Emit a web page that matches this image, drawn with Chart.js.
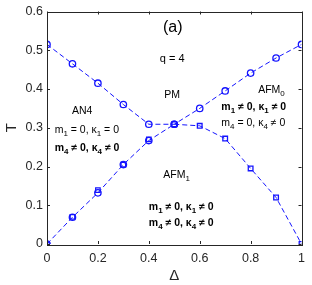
<!DOCTYPE html>
<html>
<head>
<meta charset="utf-8">
<script src="https://cdn.jsdelivr.net/npm/chart.js@4"></script>
<style>
html,body{margin:0;padding:0;background:#fff;}
#wrap{width:312px;height:285px;position:relative;}
</style>
</head>
<body>
<div id="wrap"><canvas id="c" width="312" height="285"></canvas></div>
<script>
// ---- data ----
const deltaUpper = [0, 0.1, 0.2, 0.3, 0.4, 0.5, 0.6, 0.7, 0.8, 0.9, 1.0];
const tUpper     = [0.515, 0.465, 0.415, 0.36, 0.309, 0.309, 0.350, 0.395, 0.441, 0.480, 0.515];
const deltaLowerLeft = [0, 0.1, 0.2, 0.3, 0.4, 0.5];
const tLowerLeftCircles = [0, 0.069, 0.132, 0.205, 0.267, 0.309];
const tLowerLeftSquares = [0, 0.070, 0.139, 0.205, 0.270];
const deltaRight = [0.5, 0.6, 0.7, 0.8, 0.9, 1.0];
const tRight     = [0.309, 0.305, 0.272, 0.195, 0.120, 0];
const xTicks = [0, 0.2, 0.4, 0.6, 0.8, 1];
const yTicks = [0, 0.1, 0.2, 0.3, 0.4, 0.5, 0.6];

// annotations: text uses _ to subscript the next character
const notes = [
  {t: "(a)",             x: 0.494, y: 0.558, size: 16, bold: false, align: "center"},
  {t: "q = 4",           x: 0.492, y: 0.478, size: 11, bold: false, align: "center"},
  {t: "PM",              x: 0.492, y: 0.384, size: 10.5, bold: false, align: "center"},
  {t: "AFM_0",           x: 0.882, y: 0.398, size: 10.5, bold: false, align: "center"},
  {t: "m_1 ≠ 0, κ_1 ≠ 0", x: 0.685, y: 0.352, size: 10.5, bold: true,  align: "left"},
  {t: "m_4 = 0, κ_4 ≠ 0", x: 0.685, y: 0.312, size: 10.5, bold: false, align: "left"},
  {t: "AN4",             x: 0.138, y: 0.342, size: 10.5, bold: false, align: "center"},
  {t: "m_1 = 0, κ_1 = 0", x: 0.030, y: 0.295, size: 10.5, bold: false, align: "left"},
  {t: "m_4 ≠ 0, κ_4 ≠ 0", x: 0.030, y: 0.248, size: 10.5, bold: true,  align: "left"},
  {t: "AFM_1",           x: 0.509, y: 0.178, size: 10.5, bold: false, align: "center"},
  {t: "m_1 ≠ 0, κ_1 ≠ 0", x: 0.400, y: 0.096, size: 10.5, bold: true,  align: "left"},
  {t: "m_4 ≠ 0, κ_4 ≠ 0", x: 0.400, y: 0.053, size: 10.5, bold: true,  align: "left"}
];

const BLUE = "rgb(20,20,255)";
const FONT = "'Liberation Sans', Arial, sans-serif";
const pts = (xs, ys) => ys.map((v, i) => ({x: xs[i], y: v}));

function parseParts(s) {
  const parts = [];
  let cur = "";
  for (let i = 0; i < s.length; i++) {
    if (s[i] === "_" && i + 1 < s.length) {
      if (cur) parts.push({s: cur, sub: false});
      cur = "";
      parts.push({s: s[i + 1], sub: true});
      i++;
    } else cur += s[i];
  }
  if (cur) parts.push({s: cur, sub: false});
  return parts;
}

const decorPlugin = {
  id: "decor",
  afterDatasetsDraw(chart) {
    const ctx = chart.ctx;
    const xs = chart.scales.x, ys = chart.scales.y;
    const a = chart.chartArea;
    ctx.save();
    // box
    ctx.strokeStyle = "#262626";
    ctx.lineWidth = 1;
    ctx.strokeRect(Math.round(a.left) + 0.5, Math.round(a.top) + 0.5,
                   Math.round(a.right - a.left), Math.round(a.bottom - a.top));
    // inward ticks on all sides
    const tl = 3;
    ctx.beginPath();
    xTicks.forEach(v => {
      const px = Math.round(xs.getPixelForValue(v)) + 0.5;
      ctx.moveTo(px, a.bottom); ctx.lineTo(px, a.bottom - tl);
      ctx.moveTo(px, a.top); ctx.lineTo(px, a.top + tl);
    });
    yTicks.forEach(v => {
      const py = Math.round(ys.getPixelForValue(v)) + 0.5;
      ctx.moveTo(a.left, py); ctx.lineTo(a.left + tl, py);
      ctx.moveTo(a.right, py); ctx.lineTo(a.right - tl, py);
    });
    ctx.stroke();
    // annotations
    ctx.fillStyle = "#000";
    ctx.textBaseline = "middle";
    notes.forEach(n => {
      const parts = parseParts(n.t);
      const w = n.bold ? "bold " : "";
      const subSize = Math.round(n.size * 0.75);
      let total = 0;
      parts.forEach(p => {
        ctx.font = w + (p.sub ? subSize : n.size) + "px " + FONT;
        p.w = ctx.measureText(p.s).width;
        total += p.w;
      });
      let x = xs.getPixelForValue(n.x);
      const y = ys.getPixelForValue(n.y);
      if (n.align === "center") x -= total / 2;
      ctx.textAlign = "left";
      parts.forEach(p => {
        ctx.font = w + (p.sub ? subSize : n.size) + "px " + FONT;
        ctx.fillText(p.s, x, p.sub ? y + n.size * 0.35 : y);
        x += p.w;
      });
    });
    ctx.restore();
  }
};

const lineDs = (label, data, style, radius) => ({
  label, data,
  showLine: true,
  borderColor: BLUE,
  borderWidth: 1,
  borderDash: [5, 3],
  pointStyle: style,
  pointRadius: radius,
  pointBorderWidth: 1.3,
  pointBackgroundColor: "rgba(0,0,0,0)",
  pointBorderColor: BLUE,
  tension: 0
});
const markDs = (label, data, style, radius) => ({
  label, data,
  showLine: false,
  pointStyle: style,
  pointRadius: radius,
  pointBorderWidth: 1.2,
  pointBackgroundColor: "rgba(0,0,0,0)",
  pointBorderColor: BLUE,
  borderColor: BLUE
});

new Chart(document.getElementById("c"), {
  type: "scatter",
  data: {
    datasets: [
      lineDs("upper", pts(deltaUpper, tUpper), "circle", 3.2),
      lineDs("lowerLeft", pts(deltaLowerLeft, tLowerLeftCircles), "circle", 3.2),
      markDs("lowerLeftSq", pts(deltaLowerLeft, tLowerLeftSquares), "rect", 3.2),
      lineDs("right", pts(deltaRight, tRight), "rect", 3.3)
    ]
  },
  options: {
    responsive: false,
    animation: false,
    events: [],
    layout: {padding: {top: 9, right: 10, left: 0, bottom: 0}},
    plugins: {legend: {display: false}, tooltip: {enabled: false}},
    scales: {
      x: {
        type: "linear", min: 0, max: 1,
        grid: {display: false, drawTicks: false},
        border: {display: false},
        afterBuildTicks: s => { s.ticks = xTicks.map(v => ({value: v})); },
        afterFit: s => { s.height = 41; },
        ticks: {
          color: "#262626", padding: 7,
          font: {family: FONT, size: 12.5},
          callback: v => String(v)
        },
        title: {display: true, text: "Δ", color: "#262626",
                font: {family: FONT, size: 15}, padding: {top: 0, bottom: 0}}
      },
      y: {
        type: "linear", min: 0, max: 0.6,
        grid: {display: false, drawTicks: false},
        border: {display: false},
        afterBuildTicks: s => { s.ticks = yTicks.map(v => ({value: v})); },
        afterFit: s => { s.width = 47; },
        ticks: {
          color: "#262626", padding: 4,
          font: {family: FONT, size: 12.5},
          callback: v => String(Math.round(v * 10) / 10)
        },
        title: {display: true, text: "T", color: "#262626",
                font: {family: FONT, size: 15}, padding: {top: 3, bottom: 0}}
      }
    }
  },
  plugins: [decorPlugin]
});
</script>
</body>
</html>
